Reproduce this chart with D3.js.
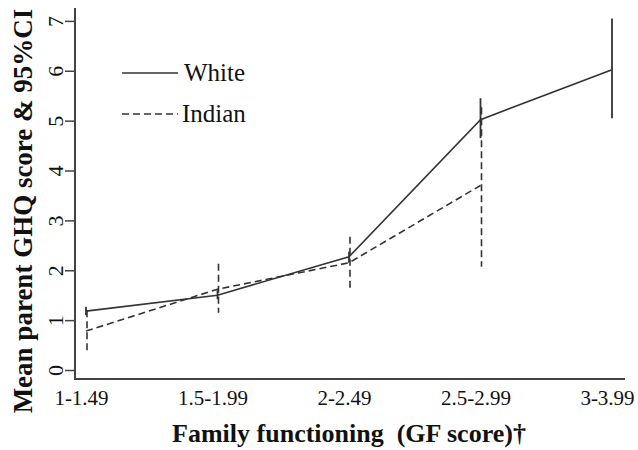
<!DOCTYPE html>
<html>
<head>
<meta charset="utf-8">
<script src="https://cdn.jsdelivr.net/npm/d3@7"></script>
<style>
  html, body { margin: 0; padding: 0; background: #fff; }
  svg { display: block; }
  text { font-family: "Liberation Serif", "Times New Roman", serif; fill: #111; }
</style>
</head>
<body>
<svg id="chart" width="638" height="450"></svg>
<script>
// ---- data ----
const categories = ["1-1.49", "1.5-1.99", "2-2.49", "2.5-2.99", "3-3.99"];
const whiteMean  = [1.18, 1.50, 2.27, 5.02, 6.02];
const whiteLow   = [1.10, 1.42, 2.15, 4.65, 5.05];
const whiteHigh  = [1.27, 1.60, 2.37, 5.45, 7.05];
const indianMean = [0.78, 1.62, 2.15, 3.70];
const indianLow  = [0.35, 1.15, 1.57, 2.07];
const indianHigh = [1.20, 2.13, 2.67, 5.27];
const yTicks = [0, 1, 2, 3, 4, 5, 6, 7];
const seriesNames = ["White", "Indian"];

const svg = d3.select("#chart");
const x = d3.scalePoint().domain(categories).range([86, 612]);
const y = d3.scaleLinear().domain([0, 7]).range([370, 20.9]);

const axisColor = "#444";

// axes lines
svg.append("line").attr("x1", 75).attr("x2", 75).attr("y1", 8).attr("y2", 380)
  .attr("stroke", axisColor).attr("stroke-width", 2);
svg.append("line").attr("x1", 74).attr("x2", 625).attr("y1", 379).attr("y2", 379)
  .attr("stroke", axisColor).attr("stroke-width", 2);

// y axis ticks
const yAxis = d3.axisLeft(y).tickValues(yTicks).tickSize(10).tickSizeOuter(0).tickFormat(d3.format("d"));
const gy = svg.append("g").attr("transform", "translate(75,0)").call(yAxis);
gy.select(".domain").remove();
gy.selectAll(".tick line").attr("stroke", axisColor).attr("stroke-width", 1.5);
gy.selectAll(".tick text")
  .attr("x", null).attr("dy", null)
  .attr("transform", "translate(-20,0) rotate(-90)")
  .attr("text-anchor", "middle")
  .attr("dominant-baseline", "central")
  .style("font-family", "'Liberation Serif', serif")
  .style("font-size", "22px").attr("fill", "#111");

// x axis labels
const xAxis = d3.axisBottom(x).tickSize(0).tickSizeOuter(0);
const gx = svg.append("g").attr("transform", "translate(0,380)").call(xAxis);
gx.select(".domain").remove();
gx.selectAll(".tick text")
  .attr("x", -5).attr("y", 18).attr("dy", "0.33em")
  .style("font-family", "'Liberation Serif', serif")
  .style("font-size", "21px").attr("fill", "#111");

// titles
svg.append("text")
  .attr("transform", "translate(32,211) rotate(-90)")
  .attr("text-anchor", "middle")
  .style("font-size", "27px").style("font-weight", "bold")
  .text("Mean parent GHQ score & 95%CI");
svg.append("text")
  .attr("x", 349).attr("y", 442)
  .attr("text-anchor", "middle")
  .style("font-size", "26px").style("font-weight", "bold")
  .style("white-space", "pre")
  .text("Family functioning  (GF score)\u2020");

const lineColor = "#333";
const dash = "7,4";

const wData = categories.map((c, i) => ({c, m: whiteMean[i], lo: whiteLow[i], hi: whiteHigh[i]}));
const iData = indianMean.map((m, i) => ({c: categories[i], m, lo: indianLow[i], hi: indianHigh[i]}));
const line = d3.line().x(d => x(d.c)).y(d => y(d.m));

svg.append("path").datum(wData).attr("d", line)
  .attr("fill", "none").attr("stroke", lineColor).attr("stroke-width", 1.6);
svg.selectAll(".wci").data(wData).join("line")
  .attr("x1", d => x(d.c)).attr("x2", d => x(d.c))
  .attr("y1", d => y(d.lo)).attr("y2", d => y(d.hi))
  .attr("stroke", lineColor).attr("stroke-width", 1.8);

svg.append("path").datum(iData).attr("d", line)
  .attr("fill", "none").attr("stroke", lineColor).attr("stroke-width", 1.6)
  .attr("stroke-dasharray", dash);
svg.selectAll(".ici").data(iData).join("line")
  .attr("x1", d => x(d.c) + 1).attr("x2", d => x(d.c) + 1)
  .attr("y1", d => y(d.hi)).attr("y2", d => y(d.lo))
  .attr("stroke", lineColor).attr("stroke-width", 1.6)
  .attr("stroke-dasharray", dash);

// legend
const legend = svg.append("g");
seriesNames.forEach((name, i) => {
  const ly = 73 + i * 41;
  legend.append("line").attr("x1", 122).attr("x2", 178).attr("y1", ly).attr("y2", ly)
    .attr("stroke", lineColor).attr("stroke-width", 1.6)
    .attr("stroke-dasharray", i === 1 ? dash : null);
  legend.append("text").attr("x", i === 0 ? 184 : 182).attr("y", ly + 8)
    .style("font-size", "25px").text(name);
});
</script>
</body>
</html>
